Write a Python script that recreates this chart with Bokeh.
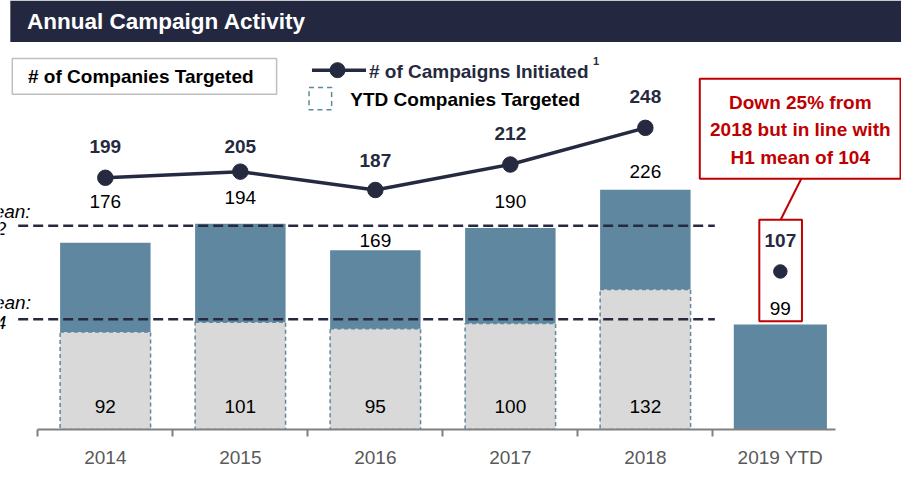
from bokeh.plotting import figure
from bokeh.models import Range1d, FixedTicker, ColumnDataSource
from bokeh.core.properties import value
from bokeh.embed import file_html
from bokeh.resources import INLINE

# ---------------- data ----------------
years = ["2014", "2015", "2016", "2017", "2018"]
ytd_label = "2019 YTD"
tick_labels = years + [ytd_label]
companies_full_year = [176, 194, 169, 190, 226]
companies_ytd = [92, 101, 95, 100, 132]
companies_2019_ytd = [99]
campaigns = [199, 205, 187, 212, 248]
campaigns_2019_ytd = [107]
mean_full_year = 192
mean_h1 = 104

# ---------------- style ----------------
NAVY = "#262A40"
TITLE_BG = "#232840"
BLUE = "#5F87A0"
GRAY = "#D9D9D9"
RED = "#C00000"
AXIS_GRAY = "#808080"
SANS = "Liberation Sans"

W, H = 901, 470
SY = H / 486.0                   # vertical pixel scale (reference -> canvas)

# layout helpers: reference pixel -> data coordinates
CX0, CDX = 106.7, 137.4          # first category centre / spacing (ref px)
BASE, PPU = 443.5, 1.097         # baseline ref px / ref px per unit (companies)
L0, LPU = 392.8, 1.053           # zero ref px / ref px per unit (campaigns)


def X(px):
    return (px - CX0) / CDX


def Y(py):
    return (BASE - py) / PPU


def off(v):
    return v * SY


xs = list(range(len(years)))
x_ytd = [len(years)]

frame_h = round(BASE * SY)
p = figure(width=W, height=H, output_backend="svg", toolbar_location=None,
           x_range=Range1d(X(0), X(917)), y_range=Range1d(0, Y(0)),
           y_axis_location=None, min_border=0, min_border_left=0, min_border_right=0,
           min_border_top=0, min_border_bottom=H - frame_h)
p.extra_y_ranges = {"camp": Range1d((L0 - BASE) / LPU, L0 / LPU)}
p.xgrid.visible = False
p.ygrid.visible = False
p.outline_line_color = None
p.background_fill_color = "white"
p.border_fill_color = "white"

# x axis
ax = p.xaxis[0]
ax.ticker = FixedTicker(ticks=list(range(len(tick_labels))),
                        minor_ticks=[i - 0.5 for i in range(len(tick_labels))])
ax.major_label_overrides = {i: t for i, t in enumerate(tick_labels)}
ax.bounds = (-0.5, X(850))
ax.axis_line_color = AXIS_GRAY
ax.axis_line_width = 2
ax.major_tick_line_color = None
ax.minor_tick_line_color = AXIS_GRAY
ax.minor_tick_line_width = 2
ax.minor_tick_in = 0
ax.minor_tick_out = 7
ax.major_label_standoff = 10
ax.major_label_text_font = SANS
ax.major_label_text_font_size = "19px"
ax.major_label_text_color = "#595959"

# title bar
p.quad(left=X(10), right=X(917), top=Y(0), bottom=Y(43), fill_color=TITLE_BG, line_color=None)
p.text(x=[X(27)], y=[Y(22)], text=["Annual Campaign Activity"], text_font=value(SANS),
       text_font_size="22.5px", text_font_style="bold", text_color="white",
       text_align="left", text_baseline="middle")

# legend
p.quad(left=X(12), right=X(281), top=Y(60), bottom=Y(97), fill_color="white",
       line_color="#BFBFBF", line_width=1.5)
p.text(x=[X(28)], y=[Y(79)], text=["# of Companies Targeted"], text_font=value(SANS),
       text_font_size="19px", text_font_style="bold", text_color="black",
       text_align="left", text_baseline="middle")
p.segment(x0=X(317), x1=X(372), y0=Y(72), y1=Y(72), line_color=NAVY, line_width=3.5)
p.scatter(x=[X(343)], y=[Y(72)], size=15, marker="circle", color=NAVY)
p.text(x=[X(375)], y=[Y(73)], text=["# of Campaigns Initiated"], text_font=value(SANS),
       text_font_size="19px", text_font_style="bold", text_color=NAVY,
       text_align="left", text_baseline="middle")
p.text(x=[X(603)], y=[Y(63)], text=["1"], text_font=value(SANS),
       text_font_size="11px", text_font_style="bold", text_color=NAVY,
       text_align="left", text_baseline="middle")
p.quad(left=X(314), right=X(337), top=Y(90), bottom=Y(113), fill_color=None,
       line_color=BLUE, line_width=1.5, line_dash="5 4")
p.text(x=[X(356)], y=[Y(102)], text=["YTD Companies Targeted"], text_font=value(SANS),
       text_font_size="19px", text_font_style="bold", text_color="black",
       text_align="left", text_baseline="middle")

# bars
p.vbar(x=xs, top=companies_ytd, bottom=0, width=0.67, fill_color=GRAY,
       line_color=BLUE, line_dash="4 3", line_width=1.5)
p.vbar(x=xs, bottom=companies_ytd, top=companies_full_year, width=0.67,
       fill_color=BLUE, line_color=None)
p.vbar(x=x_ytd, top=companies_2019_ytd, bottom=0, width=0.69, fill_color=BLUE, line_color=None)

# mean lines
for m in (mean_full_year, mean_h1):
    p.segment(x0=X(18), x1=X(727), y0=m, y1=m, line_color=NAVY, line_width=2.5, line_dash="10 5")
mean_src = ColumnDataSource(dict(
    x=[X(31), X(6), X(31), X(6)],
    y=[mean_full_year, mean_full_year, mean_h1, mean_h1],
    t=["Full Year Mean:", str(mean_full_year), "H1 Mean:", str(mean_h1)],
    off=[off(-15), off(3), off(-17), off(3)]))
p.text(x="x", y="y", text="t", y_offset="off", source=mean_src, text_font=value(SANS),
       text_font_size="19px", text_font_style="italic", text_color="black",
       text_align="right", text_baseline="middle")

# bar labels
tot_src = ColumnDataSource(dict(x=xs, y=companies_full_year, t=[str(v) for v in companies_full_year],
                                off=[off(v) for v in (-43, -27, -10, -27, -19)]))
p.text(x="x", y="y", text="t", y_offset="off", source=tot_src, text_font=value(SANS),
       text_font_size="19px", text_color="black", text_align="center", text_baseline="middle")
ytd_src = ColumnDataSource(dict(x=xs, y=[0] * len(xs), t=[str(v) for v in companies_ytd]))
p.text(x="x", y="y", text="t", y_offset=off(-24), source=ytd_src, text_font=value(SANS),
       text_font_size="19px", text_color="black", text_align="center", text_baseline="middle")
p.text(x=x_ytd, y=companies_2019_ytd, text=[str(v) for v in companies_2019_ytd], y_offset=off(-17),
       text_font=value(SANS), text_font_size="19px", text_color="black",
       text_align="center", text_baseline="middle")

# campaigns line
p.line(x=xs, y=campaigns, line_color=NAVY, line_width=3.5, y_range_name="camp")
p.scatter(x=xs, y=campaigns, size=15.5, marker="circle", color=NAVY, y_range_name="camp")
p.scatter(x=x_ytd, y=campaigns_2019_ytd, size=13.5, marker="circle", color=NAVY, y_range_name="camp")
camp_src = ColumnDataSource(dict(x=xs + x_ytd, y=campaigns + campaigns_2019_ytd,
                                 t=[str(v) for v in campaigns + campaigns_2019_ytd],
                                 off=[off(v) for v in (-32, -26, -30, -32, -32, -32)]))
p.text(x="x", y="y", text="t", y_offset="off", source=camp_src, y_range_name="camp",
       text_font=value(SANS), text_font_size="19px", text_font_style="bold",
       text_color=NAVY, text_align="center", text_baseline="middle")

# callout
p.quad(left=X(772.3), right=X(815.7), top=Y(226.7), bottom=Y(331.7), fill_color=None,
       line_color=RED, line_width=2)
p.segment(x0=X(815), y0=Y(184.3), x1=X(794), y1=Y(226.7), line_color=RED, line_width=2)
p.quad(left=X(711.7), right=X(916), top=Y(81), bottom=Y(184.3), fill_color="white",
       line_color=RED, line_width=2)
p.text(x=[X(814)] * 3, y=[Y(105), Y(133.5), Y(162)],
       text=["Down 25% from", "2018 but in line with", "H1 mean of 104"],
       text_font=value(SANS), text_font_size="19px", text_font_style="bold",
       text_color=RED, text_align="center", text_baseline="middle")

open("out.html", "w").write(file_html(p, INLINE))
